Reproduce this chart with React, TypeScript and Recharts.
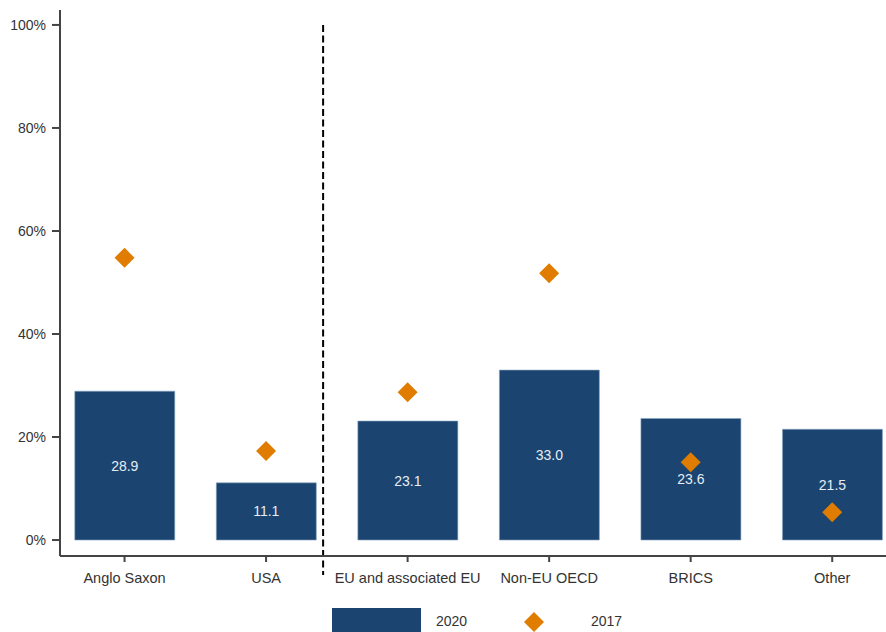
import React from 'react';
import {
  Bar,
  ComposedChart,
  LabelList,
  ReferenceLine,
  Scatter,
  XAxis,
  YAxis,
} from 'recharts';

const NAVY = '#1b4570';
const ORANGE = '#e07c00';
const AXIS = '#444444';
const TEXT = '#333333';
const FONT = '"Liberation Sans", Arial, sans-serif';

const groups = ['Anglo Saxon', 'USA', 'EU and associated EU', 'Non-EU OECD', 'BRICS', 'Other'];
const share2020 = [28.9, 11.1, 23.1, 33.0, 23.6, 21.5];
const share2017 = [54.8, 17.3, 28.7, 51.8, 15.1, 5.4];
const yTicks = [0, 20, 40, 60, 80, 100];

const rows = groups.map((g, i) => ({
  x: i,
  name: g,
  v2020: share2020[i],
  v2017: share2017[i],
}));

function Diamond(props: { cx?: number; cy?: number }) {
  const { cx, cy } = props;
  if (cx == null || cy == null) return null;
  const r = 10;
  return (
    <polygon
      points={`${cx},${cy - r} ${cx + r},${cy} ${cx},${cy + r} ${cx - r},${cy}`}
      fill={ORANGE}
    />
  );
}

export default function App() {
  const tickStyle = { fontSize: 14.5, fill: TEXT, fontFamily: FONT };

  return (
    <div style={{ position: 'absolute', left: 0, top: 0, width: 886, height: 632, background: '#fff' }}>
      <ComposedChart
        width={886}
        height={632}
        data={rows}
        margin={{ top: 10, right: 0, left: 0, bottom: 46 }}
      >
        <XAxis
          dataKey="x"
          type="number"
          domain={[-0.456, 5.38]}
          ticks={[0, 1, 2, 3, 4, 5]}
          tickFormatter={(v) => groups[v] ?? ''}
          tick={tickStyle}
          tickSize={6}
          tickMargin={11}
          height={30}
          stroke={AXIS}
          strokeWidth={2}
          allowDataOverflow
        />
        <YAxis
          type="number"
          domain={[-3.1, 102.9]}
          ticks={yTicks}
          tickFormatter={(v) => `${v}%`}
          tick={{ ...tickStyle, fontSize: 14 }}
          tickSize={8}
          tickMargin={6}
          width={60}
          stroke={AXIS}
          strokeWidth={2}
          allowDataOverflow
        />
        <ReferenceLine
          segment={[
            { x: 1.403, y: 100 },
            { x: 1.403, y: -6.8 },
          ]}
          stroke="#000"
          strokeWidth={2}
          strokeDasharray="7 3.5"
          ifOverflow="visible"
        />
        <Bar
          dataKey="v2020"
          fill={NAVY}
          stroke="#8aa6c2"
          strokeWidth={0.6}
          barSize={100}
          isAnimationActive={false}
        >
          <LabelList
            dataKey="v2020"
            position="center"
            formatter={(v: number) => v.toFixed(1)}
            fill="#e6edf4"
            fontSize={14}
            fontFamily={FONT}
          />
        </Bar>
        <Scatter dataKey="v2017" shape={<Diamond />} isAnimationActive={false} />
      </ComposedChart>
      <div
        style={{
          position: 'absolute',
          left: 332,
          top: 608,
          width: 89,
          height: 24,
          background: NAVY,
        }}
      />
      <div
        style={{
          position: 'absolute',
          left: 436,
          top: 613,
          fontSize: 14,
          fontFamily: FONT,
          color: TEXT,
        }}
      >
        2020
      </div>
      <svg style={{ position: 'absolute', left: 524, top: 612 }} width={20} height={20}>
        <polygon points="10,0 20,10 10,20 0,10" fill={ORANGE} />
      </svg>
      <div
        style={{
          position: 'absolute',
          left: 591,
          top: 613,
          fontSize: 14,
          fontFamily: FONT,
          color: TEXT,
        }}
      >
        2017
      </div>
    </div>
  );
}
